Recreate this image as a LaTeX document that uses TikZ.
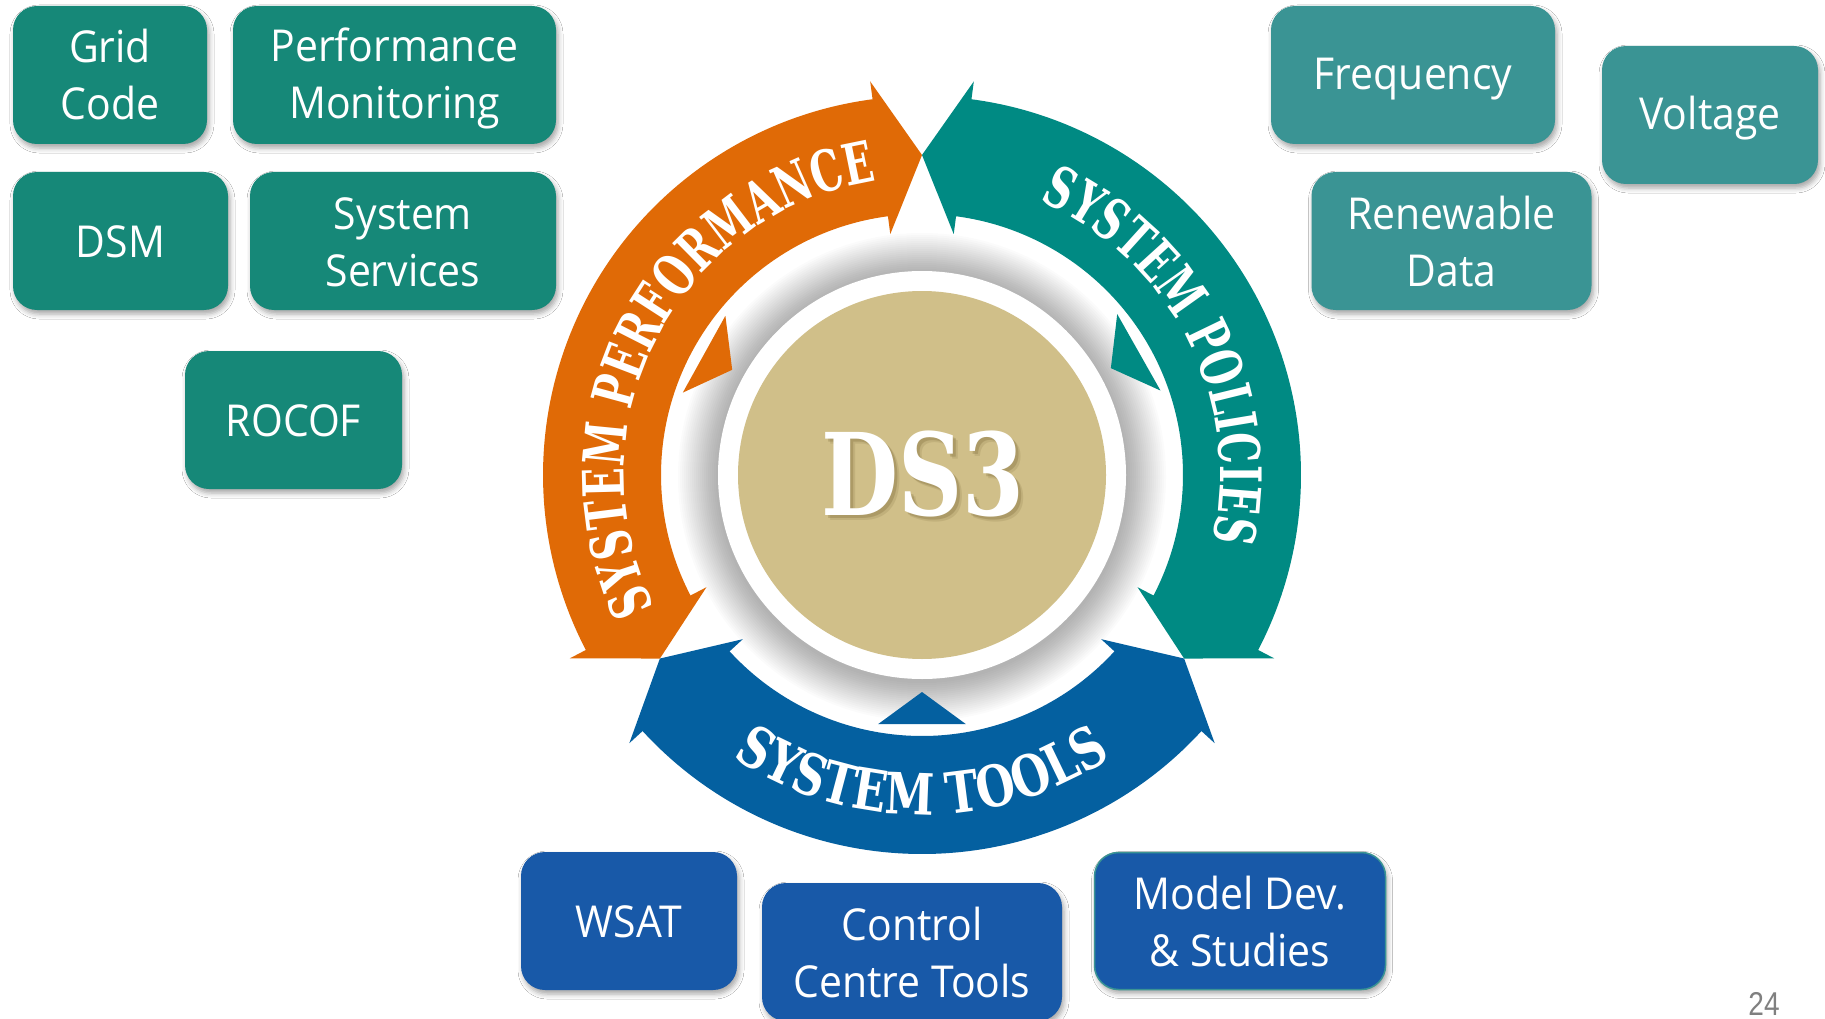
\documentclass[tikz,border=0pt]{standalone}
\usepackage{fontspec}
\usepackage{graphicx}
\usetikzlibrary{decorations.text,shadows.blur}

\newfontfamily\boxfont[FakeStretch=0.93]{Open Sans}
\newfontfamily\slabfont{DejaVu Serif}
\newfontfamily\slabperf[FakeStretch=0.69]{DejaVu Serif}
\newfontfamily\slabpol[FakeStretch=0.68]{DejaVu Serif}
\newfontfamily\slabtools[FakeStretch=0.78]{DejaVu Serif}
\newfontfamily\pagefont[FakeStretch=0.85]{Liberation Sans}

\definecolor{tealbox}{RGB}{22,136,120}
\definecolor{aquabox}{RGB}{58,148,148}
\definecolor{bluebox}{RGB}{24,89,168}
\definecolor{perforange}{RGB}{224,106,6}
\definecolor{policyteal}{RGB}{0,138,131}
\definecolor{toolsblue}{RGB}{4,96,160}
\definecolor{sand}{RGB}{208,191,137}
\definecolor{sandshadow}{RGB}{110,92,45}

% strut giving every text line the same height and depth
\newcommand\bstrut{\rule[-7pt]{0pt}{47pt}}

% one curved band of the cycle, arrow tips at both ends
% #1 = angle of first tip, #2 = angle of second tip, #3 = colour
\newcommand\ringband[3]{%
  \fill[#3] (#1:320pt) -- ({#1+7.5}:397pt) -- ({#1+7.5}:379pt)
    arc[start angle={#1+7.5}, end angle={#2-7.5}, radius=379pt]
    -- ({#2-7.5}:397pt) -- (#2:320pt) -- ({#2-7.5}:243pt) -- ({#2-7.5}:261pt)
    arc[start angle={#2-7.5}, end angle={#1+7.5}, radius=261pt]
    -- ({#1+7.5}:243pt) -- cycle;}

\tikzset{
  infobox/.style={rectangle, rounded corners=24pt, inner sep=0pt, text=white,
    align=center, font=\boxfont\fontsize{44}{57}\selectfont,
    blur shadow={shadow xshift=2pt, shadow yshift=-4pt,
      shadow blur radius=5pt, shadow opacity=35}},
  leftbox/.style={infobox, fill=tealbox},
  rightbox/.style={infobox, fill=aquabox},
  toolbox/.style={infobox, fill=bluebox},
  ringlabel/.style={decorate, decoration={text along path, text align=center, text={#1}}},
  hubtext/.style={font=\slabfont\bfseries\fontsize{114}{114}\selectfont},
}

\begin{document}
\begin{tikzpicture}[x=1pt,y=1pt]
\fill[white] (0,0) rectangle (1825,-1019);
\useasboundingbox (0,0) rectangle (1825,-1019);

% ---------------- central cycle ----------------
\begin{scope}[shift={(922,-475)}]
  % soft halo round the hub
  \foreach \k in {1,...,20}
    \fill[black, opacity=0.017] (0,-2) circle[radius={204pt+2pt*\k}];
  \fill[white] (0,0) circle[radius=204pt];
  \fill[sand] (0,0) circle[radius=184pt];

  % hub title with its shadow
  \node[hubtext, text=sandshadow, opacity=0.25] (hubshadowa) at (4,-1.5) {\scalebox{0.78}[1]{DS3}};
  \node[hubtext, text=sandshadow, opacity=0.15] (hubshadowb) at (6,-3.5) {\scalebox{0.78}[1]{DS3}};
  \node[hubtext, text=white] (hub) at (1,1.5) {\scalebox{0.78}[1]{DS3}};

  % the three bands
  \ringband{90}{215}{perforange}
  \ringband{215}{325}{toolsblue}
  \ringband{325}{450}{policyteal}

  % inward pointers
  \fill[perforange] (141:253pt) -- (161:253pt) -- (151:217pt) -- cycle;
  \fill[toolsblue] (260:253pt) -- (280:253pt) -- (270:217pt) -- cycle;
  \fill[policyteal] (19.5:253pt) -- (39.5:253pt) -- (29.5:217pt) -- cycle;

  % band labels
  \path[ringlabel={|\slabperf\bfseries\fontsize{57}{57}\selectfont\color{white}|SYSTEM PERFORMANCE}]
    (212.5:298pt) arc[start angle=212.5, end angle=92.5, radius=298pt];
  \path[ringlabel={|\slabpol\bfseries\fontsize{57}{57}\selectfont\color{white}|SYSTEM POLICIES}]
    (87:298pt) arc[start angle=87, end angle=-33, radius=298pt];
  \path[ringlabel={|\slabtools\bfseries\fontsize{57}{57}\selectfont\color{white}|SYSTEM TOOLS}]
    (220:340pt) arc[start angle=220, end angle=320, radius=340pt];
\end{scope}

% ---------------- performance topics ----------------
\node[leftbox, minimum width=194pt, minimum height=138pt] (grid) at (110,-75) {\bstrut Grid\\\bstrut Code};
\node[leftbox, minimum width=323pt, minimum height=138pt] (perfmon) at (394.5,-75) {\bstrut Performance\\\bstrut Monitoring};
\node[leftbox, minimum width=215pt, minimum height=138pt] (dsm) at (120.5,-241) {\bstrut DSM};
\node[leftbox, minimum width=306pt, minimum height=138pt] (sysserv) at (403,-241) {\bstrut System\\\bstrut Services};
\node[leftbox, minimum width=217pt, minimum height=138pt] (rocof) at (293.5,-420) {\bstrut ROCOF};

% ---------------- policy topics ----------------
\node[rightbox, minimum width=284pt, minimum height=138pt] (freq) at (1413,-75) {\bstrut Frequency};
\node[rightbox, minimum width=216pt, minimum height=138pt] (volt) at (1710,-115) {\bstrut Voltage};
\node[rightbox, minimum width=280pt, minimum height=138pt] (renew) at (1451.5,-241) {\bstrut Renewable\\\bstrut Data};

% ---------------- tool topics ----------------
\node[toolbox, minimum width=216pt, minimum height=138pt] (wsat) at (629,-921) {\bstrut WSAT};
\node[toolbox, minimum width=300pt, minimum height=138pt] (cct) at (912,-952) {\bstrut Control\\\bstrut Centre Tools};
\node[toolbox, draw=aquabox, line width=1.5pt, minimum width=291pt, minimum height=137pt] (model) at (1240,-921) {\bstrut Model Dev.\\\bstrut \& Studies};

% slide number
\node[text=black!50, font=\pagefont\fontsize{33}{33}\selectfont] (pagenum) at (1764,-1004) {24};
\end{tikzpicture}
\end{document}
